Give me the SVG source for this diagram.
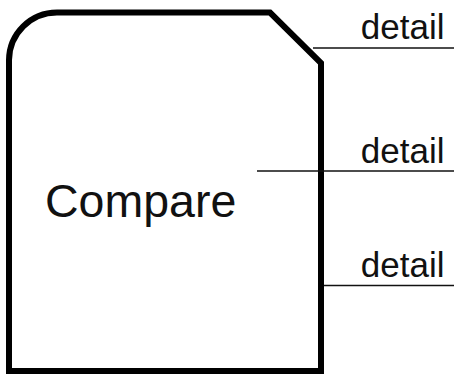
<svg xmlns="http://www.w3.org/2000/svg" width="454" height="376" viewBox="0 0 454 376">
<style>
.shape{fill:#fff;stroke:#000;stroke-width:6;stroke-linejoin:miter}
.conn{stroke:#111;stroke-width:1.6;fill:none}
.lbl{font-family:"Liberation Sans",Arial,sans-serif;fill:#111}
</style>
<rect width="454" height="376" fill="#fff"/>
<g id="compare">
<path class="shape" d="M9,371 L9,60 A48,48 0 0 1 57,12.5 L270,12.5 L321,63 L321,371 Z"/>
<text class="lbl" x="45" y="217" font-size="46.5">Compare</text>
</g>
<g id="connectors">
<line class="conn" x1="313" y1="48" x2="454" y2="48"/>
<line class="conn" x1="257" y1="171" x2="454" y2="171"/>
<line class="conn" x1="324" y1="285.5" x2="454" y2="285.5"/>
</g>
<g id="details">
<text class="lbl" x="444.5" y="38.5" font-size="35" text-anchor="end">detail</text>
<text class="lbl" x="444.5" y="163" font-size="35" text-anchor="end">detail</text>
<text class="lbl" x="444.5" y="277" font-size="35" text-anchor="end">detail</text>
</g>
</svg>
